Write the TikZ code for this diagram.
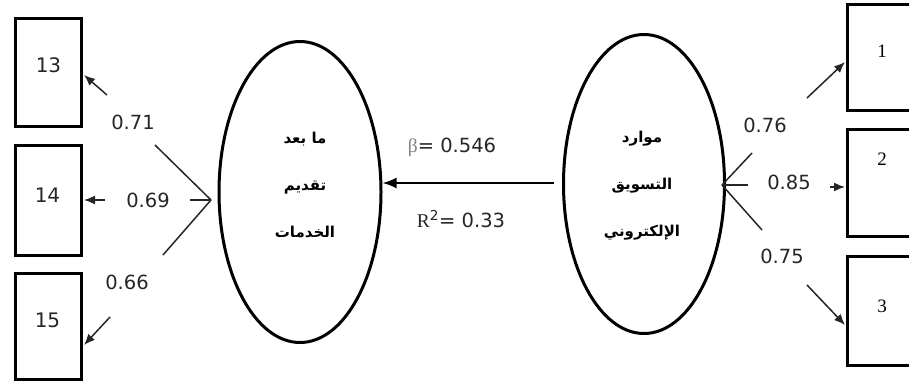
\documentclass[tikz,border=0pt]{standalone}
\usepackage{fontspec}
\usetikzlibrary{arrows.meta,calc,shapes.geometric}
\TeXXeTstate=1
\newfontfamily\arabicfont[Script=Arabic]{DejaVu Sans}
\newfontfamily\numfont{DejaVu Sans}
\newfontfamily\serfont{Liberation Serif}
\begin{document}
\begin{tikzpicture}[x=1pt,y=-1pt,
  box/.style={draw,line width=3pt,rectangle,inner sep=0pt},
  lat/.style={draw,line width=3pt,ellipse,inner sep=0pt},
  num/.style={font=\numfont\fontsize{19.5}{22}\selectfont,inner sep=0pt,text=black!85},
  boxnum/.style={font=\numfont\fontsize{20}{24}\selectfont,inner sep=0pt,text=black!85},
  sernum/.style={font=\serfont\fontsize{19}{22}\selectfont,inner sep=0pt},
  arab/.style={font=\arabicfont\bfseries\fontsize{15}{47}\selectfont,align=center,inner sep=0pt},
  conn/.style={line width=1.5pt,draw=black!85},
  arr/.style={conn,-{Latex[length=11pt,width=9pt]}},
  bigarr/.style={line width=2pt,-{Latex[length=14pt,width=11pt]}}]
\clip (0,0) rectangle (909,383);
\fill[white] (0,0) rectangle (909,383);
% boxes left
\node[box,minimum width=66pt,minimum height=108pt] (b13) at (48.5,72.5) {};
\node[box,minimum width=66pt,minimum height=110pt] (b14) at (48.5,200.5) {};
\node[box,minimum width=66pt,minimum height=106pt] (b15) at (48.5,326.5) {};
\node[boxnum] (t13) at (48.5,65.5) {13};
\node[boxnum] (t14) at (47.5,195) {14};
\node[boxnum] (t15) at (47.5,320) {15};
% boxes right
\node[box,minimum width=120pt,minimum height=106pt] (b1) at (907.5,57.5) {};
\node[box,minimum width=120pt,minimum height=107pt] (b2) at (907.5,183) {};
\node[box,minimum width=120pt,minimum height=109pt] (b3) at (907.5,311) {};
\node[sernum] (t1) at (882,51) {1};
\node[sernum] (t2) at (882,159) {2};
\node[sernum] (t3) at (882,306) {3};
% latent variables
\node[lat,minimum width=162pt,minimum height=301pt] (le) at (300,192) {};
\node[lat,minimum width=161pt,minimum height=299pt] (re) at (644,184) {};
\node[arab] (lt) at (305,185) {\beginR ما بعد\endR\\\beginR تقديم\endR\\\beginR الخدمات\endR};
\node[arab] (rt) at (642,185.5) {\beginR موارد\endR\\\beginR التسويق\endR\\\beginR الإلكتروني\endR};
% structural path
\coordinate (bs) at ($(re.west)+(-8,-1)$);
\draw[bigarr] (bs) -- (le.east |- bs);
\node[num] (beta) at (452,147) {{\color{gray}\serfont β}= 0.546};
\node[num] (r2) at (461,219) {{\serfont R}\textsuperscript{2}= 0.33};
% left loadings
\coordinate (LJ) at (211,200);
\coordinate (a13) at (155,145);
\coordinate (s13) at (107,95);
\coordinate (a14) at (190,200);
\coordinate (s14) at (105,200);
\coordinate (a15) at (163,255);
\coordinate (s15) at (110,317);
\draw[conn] (LJ) -- (a13);
\draw[conn] (LJ) -- (a14);
\draw[conn] (LJ) -- (a15);
\draw[arr] (s13) -- ($(b13.east)+(1,2.5)$);
\draw[arr] (s14) -- ($(b14.east)+(1,-0.5)$);
\draw[arr] (s15) -- ($(b15.east)+(1,18.5)$);
\node[num] (l13) at (133,122) {0.71};
\node[num] (l14) at (148,200) {0.69};
\node[num] (l15) at (127,282) {0.66};
% right loadings
\coordinate (RJ) at (722,185);
\coordinate (a1) at (752,153);
\coordinate (s1) at (807,98);
\coordinate (a2) at (748,185);
\coordinate (s2) at (830,187);
\coordinate (a3) at (762,230);
\coordinate (s3) at (807,285);
\draw[conn] (RJ) -- (a1);
\draw[conn] (RJ) -- (a2);
\draw[conn] (RJ) -- (a3);
\draw[arr] (s1) -- ($(b1.west)+(-1,4.5)$);
\draw[arr] (s2) -- ($(b2.west)+(-1,4)$);
\draw[arr] (s3) -- ($(b3.west)+(-1,14)$);
\node[num] (l1) at (765,125) {0.76};
\node[num] (l2) at (789,182) {0.85};
\node[num] (l3) at (782,256) {0.75};
\end{tikzpicture}
\end{document}
